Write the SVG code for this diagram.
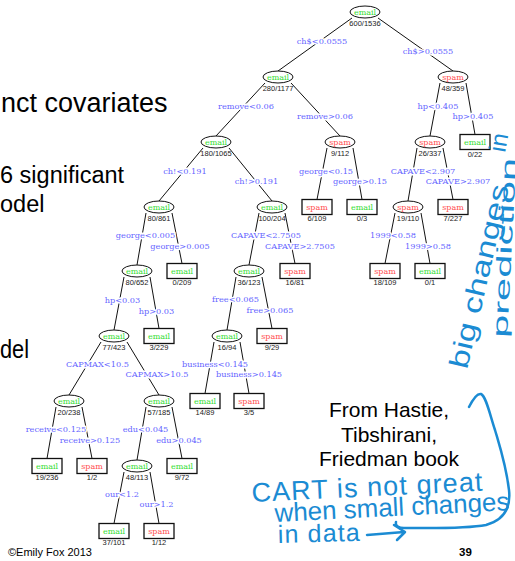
<svg xmlns="http://www.w3.org/2000/svg" width="515" height="561" viewBox="0 0 515 561">
<style>
.e{fill:#fff;stroke:#111;stroke-width:1}
.b{fill:#fff;stroke:#111;stroke-width:1.3}
.ln{stroke:#111;stroke-width:1;fill:none}
.cl{font-family:"DejaVu Serif",serif;font-size:8px;text-anchor:middle}
.g{fill:#33dd33}
.r{fill:#ff4d4d}
.ct{font-family:"Liberation Sans",Arial,sans-serif;font-size:7.5px;fill:#222;text-anchor:middle}
.lb{font-family:"DejaVu Serif",serif;font-size:8.2px;fill:#6464ff;text-anchor:middle;stroke:#fff;stroke-width:3;paint-order:stroke;stroke-linejoin:round}
.hw{font-family:"Liberation Sans",Arial,sans-serif;fill:#1b8bd3}
.hp{fill:none;stroke:#1b8bd3;stroke-width:2.5;stroke-linecap:round;stroke-linejoin:round}
.big{font-family:"Liberation Sans",Arial,sans-serif;fill:#000}
</style>
<rect width="515" height="561" fill="#fff"/>
<g id="slide-text" class="big">
<text x="1" y="112" font-size="27">nct covariates</text>
<text x="0" y="183" font-size="23.5">6 significant</text>
<text x="0" y="212" font-size="23.5">odel</text>
<text x="0" y="358" font-size="26" textLength="29" lengthAdjust="spacingAndGlyphs">del</text>
<text x="389" y="417" font-size="21" text-anchor="middle">From Hastie,</text>
<text x="389" y="441.5" font-size="21" text-anchor="middle">Tibshirani,</text>
<text x="389" y="466" font-size="21" text-anchor="middle">Friedman book</text>
<text x="8" y="556" font-size="11">©Emily Fox 2013</text>
<text x="465.5" y="556" font-size="11.5" font-weight="bold" text-anchor="middle">39</text>
</g>
<g id="connectors" class="ln">
<path d="M352,18L278,71M378,18L453,71"/>
<path d="M265,83L216,136M291,83L340,136"/>
<path d="M440,83L430,136M466,83L475,134.5"/>
<path d="M203,148L159,201M229,148L272,201"/>
<path d="M327,148L317,199.5M353,148L362,199.5"/>
<path d="M417,148L408,201M443,148L453,199.5"/>
<path d="M146,213L137,265M172,213L182,263.5"/>
<path d="M259,213L249,265M285,213L295,263.5"/>
<path d="M395,213L385,263.5M421,213L430,263.5"/>
<path d="M124,277L114,330M150,277L159,328.5"/>
<path d="M236,277L227,330M262,277L272,328.5"/>
<path d="M101,342L69,395M127,342L159,395"/>
<path d="M214,342L205,393.5M240,342L249,393.5"/>
<path d="M56,407L47,458.5M82,407L92,458.5"/>
<path d="M146,407L137,460M172,407L182,458.5"/>
<path d="M124,472L114,523.5M150,472L159,523.5"/>
</g>
<g id="split-labels" class="lb">
<text x="322" y="43.5">ch$&lt;0.0555</text><text x="428" y="54">ch$&gt;0.0555</text>
<text x="246" y="108.5">remove&lt;0.06</text><text x="325" y="119">remove&gt;0.06</text>
<text x="438" y="108.5">hp&lt;0.405</text><text x="473" y="119">hp&gt;0.405</text>
<text x="185" y="173.5">ch!&lt;0.191</text><text x="256.5" y="184">ch!&gt;0.191</text>
<text x="326" y="173.5">george&lt;0.15</text><text x="360" y="184">george&gt;0.15</text>
<text x="423" y="173.5">CAPAVE&lt;2.907</text><text x="458" y="184">CAPAVE&gt;2.907</text>
<text x="145.5" y="237.5">george&lt;0.005</text><text x="180" y="248.5">george&gt;0.005</text>
<text x="266" y="237.5">CAPAVE&lt;2.7505</text><text x="300" y="248.5">CAPAVE&gt;2.7505</text>
<text x="393" y="237.5">1999&lt;0.58</text><text x="428" y="248.5">1999&gt;0.58</text>
<text x="122.5" y="302.5">hp&lt;0.03</text><text x="156.5" y="313.5">hp&gt;0.03</text>
<text x="235.5" y="302">free&lt;0.065</text><text x="270" y="313">free&gt;0.065</text>
<text x="97.5" y="367">CAPMAX&lt;10.5</text><text x="157" y="377">CAPMAX&gt;10.5</text>
<text x="215" y="366.5">business&lt;0.145</text><text x="249" y="377">business&gt;0.145</text>
<text x="56" y="432">receive&lt;0.125</text><text x="90" y="442.5">receive&gt;0.125</text>
<text x="145.5" y="432">edu&lt;0.045</text><text x="179" y="442.5">edu&gt;0.045</text>
<text x="122" y="497">our&lt;1.2</text><text x="156.5" y="507">our&gt;1.2</text>
</g>
<g id="n0"><ellipse class="e" cx="365" cy="12" rx="15" ry="6"/><text class="cl g" x="365" y="14.8">email</text><text class="ct" x="365" y="25.5">600/1536</text></g>
<g id="n1"><ellipse class="e" cx="278" cy="77" rx="15" ry="6"/><text class="cl g" x="278" y="79.8">email</text><text class="ct" x="278" y="90.5">280/1177</text></g>
<g id="n2"><ellipse class="e" cx="453" cy="77" rx="15" ry="6"/><text class="cl r" x="453" y="79.8">spam</text><text class="ct" x="453" y="90.5">48/359</text></g>
<g id="n3"><ellipse class="e" cx="216" cy="142" rx="15" ry="6"/><text class="cl g" x="216" y="144.8">email</text><text class="ct" x="216" y="155.5">180/1065</text></g>
<g id="n4"><ellipse class="e" cx="340" cy="142" rx="15" ry="6"/><text class="cl r" x="340" y="144.8">spam</text><text class="ct" x="340" y="155.5">9/112</text></g>
<g id="n5"><ellipse class="e" cx="430" cy="142" rx="15" ry="6"/><text class="cl r" x="430" y="144.8">spam</text><text class="ct" x="430" y="155.5">26/337</text></g>
<g id="n6"><rect class="b" x="460" y="134.5" width="30" height="15"/><text class="cl g" x="475" y="144.8">email</text><text class="ct" x="475" y="157">0/22</text></g>
<g id="n7"><ellipse class="e" cx="159" cy="207" rx="15" ry="6"/><text class="cl g" x="159" y="209.8">email</text><text class="ct" x="159" y="220.5">80/861</text></g>
<g id="n8"><ellipse class="e" cx="272" cy="207" rx="15" ry="6"/><text class="cl g" x="272" y="209.8">email</text><text class="ct" x="272" y="220.5">100/204</text></g>
<g id="n9"><rect class="b" x="302" y="199.5" width="30" height="15"/><text class="cl r" x="317" y="209.8">spam</text><text class="ct" x="317" y="220.5">6/109</text></g>
<g id="n10"><rect class="b" x="347" y="199.5" width="30" height="15"/><text class="cl g" x="362" y="209.8">email</text><text class="ct" x="362" y="220.5">0/3</text></g>
<g id="n11"><ellipse class="e" cx="408" cy="207" rx="15" ry="6"/><text class="cl r" x="408" y="209.8">spam</text><text class="ct" x="408" y="220.5">19/110</text></g>
<g id="n12"><rect class="b" x="438" y="199.5" width="30" height="15"/><text class="cl r" x="453" y="209.8">spam</text><text class="ct" x="453" y="220.5">7/227</text></g>
<g id="n13"><ellipse class="e" cx="137" cy="271" rx="15" ry="6"/><text class="cl g" x="137" y="273.8">email</text><text class="ct" x="137" y="284.5">80/652</text></g>
<g id="n14"><rect class="b" x="167" y="263.5" width="30" height="15"/><text class="cl g" x="182" y="273.8">email</text><text class="ct" x="182" y="284.5">0/209</text></g>
<g id="n15"><ellipse class="e" cx="249" cy="271" rx="15" ry="6"/><text class="cl g" x="249" y="273.8">email</text><text class="ct" x="249" y="284.5">36/123</text></g>
<g id="n16"><rect class="b" x="280" y="263.5" width="30" height="15"/><text class="cl r" x="295" y="273.8">spam</text><text class="ct" x="295" y="284.5">16/81</text></g>
<g id="n17"><rect class="b" x="370" y="263.5" width="30" height="15"/><text class="cl r" x="385" y="273.8">spam</text><text class="ct" x="385" y="284.5">18/109</text></g>
<g id="n18"><rect class="b" x="415" y="263.5" width="30" height="15"/><text class="cl g" x="430" y="273.8">email</text><text class="ct" x="430" y="284.5">0/1</text></g>
<g id="n19"><ellipse class="e" cx="114" cy="336" rx="15" ry="6"/><text class="cl g" x="114" y="338.8">email</text><text class="ct" x="114" y="349.5">77/423</text></g>
<g id="n20"><rect class="b" x="144" y="328.5" width="30" height="15"/><text class="cl g" x="159" y="338.8">email</text><text class="ct" x="159" y="349.5">3/229</text></g>
<g id="n21"><ellipse class="e" cx="227" cy="336" rx="15" ry="6"/><text class="cl g" x="227" y="338.8">email</text><text class="ct" x="227" y="349.5">16/94</text></g>
<g id="n22"><rect class="b" x="257" y="328.5" width="30" height="15"/><text class="cl r" x="272" y="338.8">spam</text><text class="ct" x="272" y="349.5">9/29</text></g>
<g id="n23"><ellipse class="e" cx="69" cy="401" rx="15" ry="6"/><text class="cl g" x="69" y="403.8">email</text><text class="ct" x="69" y="414.5">20/238</text></g>
<g id="n24"><ellipse class="e" cx="159" cy="401" rx="15" ry="6"/><text class="cl g" x="159" y="403.8">email</text><text class="ct" x="159" y="414.5">57/185</text></g>
<g id="n25"><rect class="b" x="190" y="393.5" width="30" height="15"/><text class="cl g" x="205" y="403.8">email</text><text class="ct" x="205" y="414.5">14/89</text></g>
<g id="n26"><rect class="b" x="234" y="393.5" width="30" height="15"/><text class="cl r" x="249" y="403.8">spam</text><text class="ct" x="249" y="414.5">3/5</text></g>
<g id="n27"><rect class="b" x="32" y="458.5" width="30" height="15"/><text class="cl g" x="47" y="468.8">email</text><text class="ct" x="47" y="479.5">19/236</text></g>
<g id="n28"><rect class="b" x="77" y="458.5" width="30" height="15"/><text class="cl r" x="92" y="468.8">spam</text><text class="ct" x="92" y="479.5">1/2</text></g>
<g id="n29"><ellipse class="e" cx="137" cy="466" rx="15" ry="6"/><text class="cl g" x="137" y="468.8">email</text><text class="ct" x="137" y="479.5">48/113</text></g>
<g id="n30"><rect class="b" x="167" y="458.5" width="30" height="15"/><text class="cl g" x="182" y="468.8">email</text><text class="ct" x="182" y="479.5">9/72</text></g>
<g id="n31"><rect class="b" x="99" y="523.5" width="30" height="15"/><text class="cl g" x="114" y="533.8">email</text><text class="ct" x="114" y="544.5">37/101</text></g>
<g id="n32"><rect class="b" x="144" y="523.5" width="30" height="15"/><text class="cl r" x="159" y="533.8">spam</text><text class="ct" x="159" y="544.5">1/12</text></g>
<g id="handwriting">
<text class="hw" font-size="27" transform="translate(467,370) rotate(-77)" textLength="188" lengthAdjust="spacingAndGlyphs">big changes</text>
<text class="hw" font-size="24" transform="translate(505,153) rotate(-80)">in</text>
<text class="hw" font-size="21" transform="translate(507,338) rotate(-87)" textLength="180" lengthAdjust="spacingAndGlyphs">prediction</text>
<text class="hw" font-size="27" transform="translate(252,502) rotate(-2.8)" textLength="231" lengthAdjust="spacing">CART is not great</text>
<text class="hw" font-size="26" transform="translate(275,522) rotate(-2.9)" textLength="235" lengthAdjust="spacing">when small changes</text>
<text class="hw" font-size="25" transform="translate(278,543) rotate(-1.5)" textLength="82" lengthAdjust="spacing">in data</text>
<path class="hp" d="M367,535 L404,532 M394,525 L405,532 L397,540"/>
<path class="hp" d="M469,407 C473,399 477,393 481,394 C486,396 490,415 495,430 C500,447 506,465 509,490 C511,508 504,520 486,525 C465,529 430,528 404,528 C399,528 395,526 396,522"/>
</g>
</svg>
